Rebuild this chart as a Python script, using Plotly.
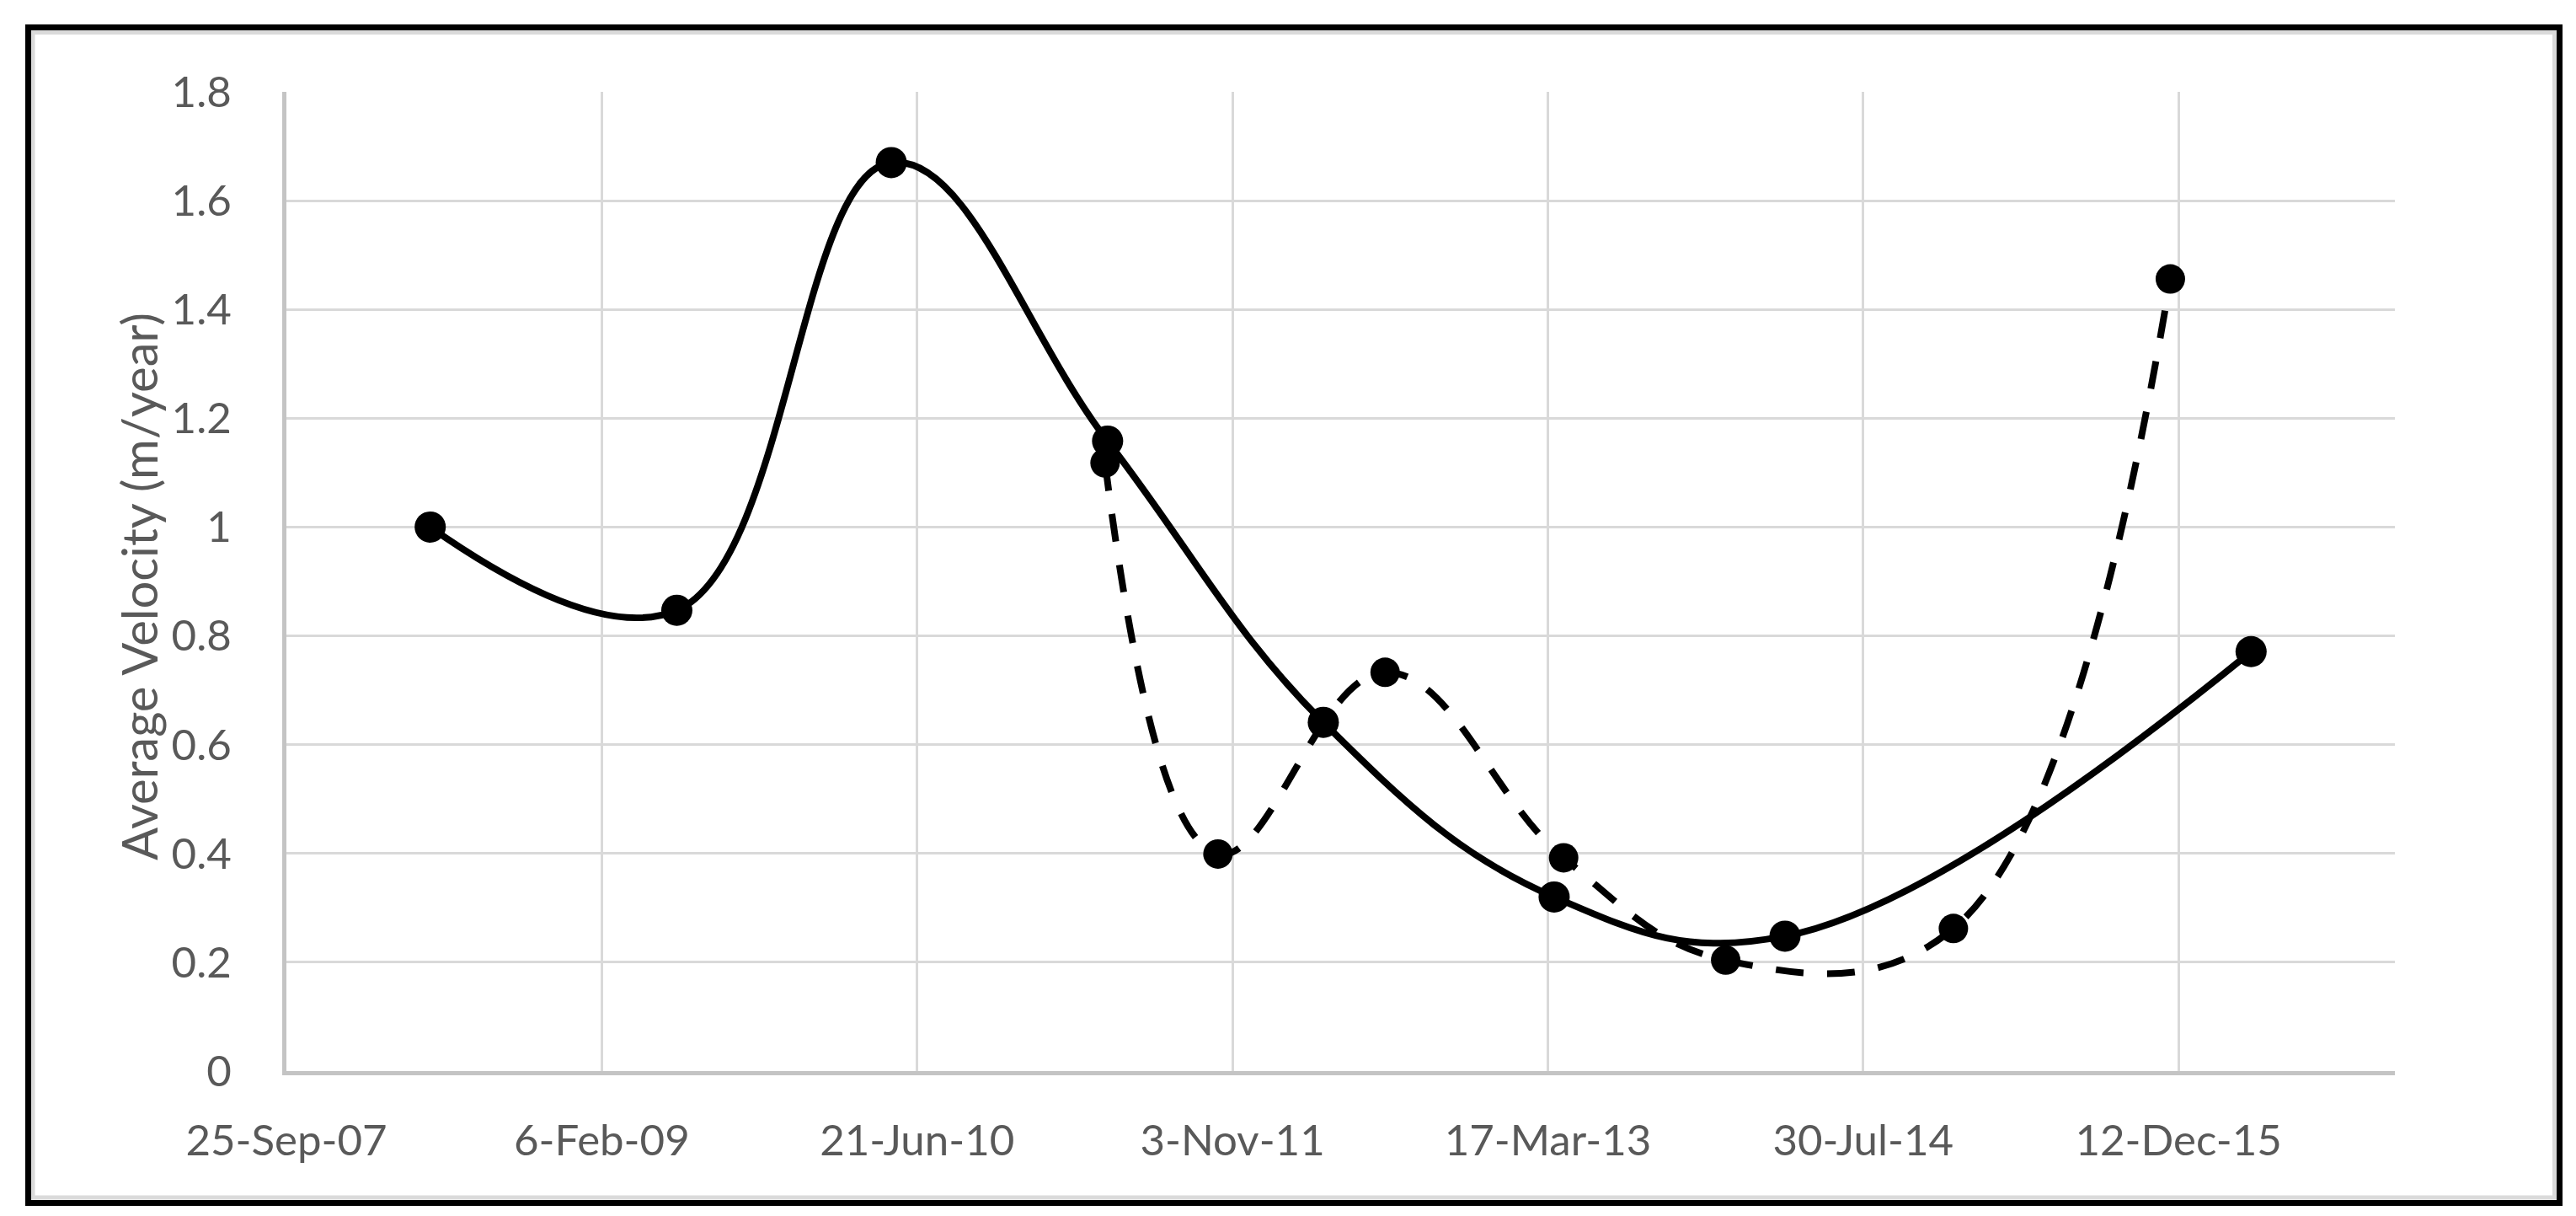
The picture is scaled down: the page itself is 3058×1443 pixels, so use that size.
import plotly.graph_objects as go

# ---- data ----
solid_dates = ["2008-05-10", "2009-06-05", "2010-05-11", "2011-04-19",
               "2012-03-26", "2013-03-27", "2014-03-28", "2016-04-05"]
solid_vals = [1.00, 0.847, 1.670, 1.158, 0.641, 0.320, 0.248, 0.771]

dashed_dates = ["2011-04-15", "2011-10-11", "2012-07-02", "2013-04-11",
                "2013-12-24", "2014-12-20", "2015-11-29"]
dashed_vals = [1.118, 0.399, 0.733, 0.392, 0.204, 0.262, 1.456]

tick_dates = ["2007-09-25", "2009-02-06", "2010-06-21", "2011-11-03",
              "2013-03-17", "2014-07-30", "2015-12-12"]
tick_labels = ["25-Sep-07", "6-Feb-09", "21-Jun-10", "3-Nov-11",
               "17-Mar-13", "30-Jul-14", "12-Dec-15"]
y_ticks = [0, 0.2, 0.4, 0.6, 0.8, 1.0, 1.2, 1.4, 1.6, 1.8]
y_labels = ["0", "0.2", "0.4", "0.6", "0.8", "1", "1.2", "1.4", "1.6", "1.8"]

# ---- layout geometry (pixels) ----
W, H = 3058, 1443
L, R, T, B = 332, 2835, 101, 1263
PW, PH = R - L, B - T


def px(x):
    return (x - L) / PW


def py(y):
    return (B - y) / PH


FONT = "Lato"
GRAY = "#595959"
TICK_SIZE = 51
TITLE_SIZE = 58

fig = go.Figure()
fig.add_trace(go.Scatter(
    x=solid_dates, y=solid_vals, mode="lines+markers",
    line=dict(color="black", width=8, shape="spline", smoothing=1.15),
    marker=dict(color="black", size=37, line=dict(width=0)),
    showlegend=False, cliponaxis=False))
fig.add_trace(go.Scatter(
    x=dashed_dates, y=dashed_vals, mode="lines+markers",
    line=dict(color="black", width=8, shape="spline", smoothing=1.15,
              dash="33px,28px"),
    marker=dict(color="black", size=35, line=dict(width=0)),
    showlegend=False, cliponaxis=False))

fig.update_layout(
    width=W, height=H,
    margin=dict(l=L, r=W - R, t=T, b=H - B, pad=0),
    paper_bgcolor="white", plot_bgcolor="white",
    font=dict(family=FONT, size=TICK_SIZE, color=GRAY),
    xaxis=dict(
        type="date", range=["2007-09-25", "2016-11-19"],
        tickmode="array", tickvals=tick_dates, ticktext=tick_labels,
        showgrid=True, gridcolor="#d9d9d9", gridwidth=3,
        showline=True, linecolor="#c4c4c4", linewidth=5,
        ticks="", ticklabelstandoff=34, zeroline=False,
        tickfont=dict(family=FONT, size=TICK_SIZE, color=GRAY),
    ),
    yaxis=dict(
        range=[0, 1.8], tickmode="array", tickvals=y_ticks, ticktext=y_labels,
        showgrid=True, gridcolor="#d9d9d9", gridwidth=3,
        showline=True, linecolor="#c4c4c4", linewidth=5,
        ticks="", ticklabelstandoff=50, zeroline=False,
        tickfont=dict(family=FONT, size=TICK_SIZE, color=GRAY),
    ),
    annotations=[dict(
        text="Average Velocity (m/year)", xref="paper", yref="paper",
        x=px(156), y=py(688), xanchor="center", yanchor="middle",
        textangle=-90, showarrow=False,
        font=dict(family=FONT, size=TITLE_SIZE, color=GRAY))],
    shapes=[
        dict(type="rect", xref="paper", yref="paper",
             x0=px(31), x1=px(3024.5), y0=py(1413), y1=py(30.5),
             line=dict(color="#dadada", width=5), layer="below"),
        dict(type="rect", xref="paper", yref="paper",
             x0=px(25.5), x1=px(3030.5), y0=py(1419.5), y1=py(24.5),
             line=dict(color="black", width=7), layer="above"),
    ],
)

fig.write_html("out.html")
